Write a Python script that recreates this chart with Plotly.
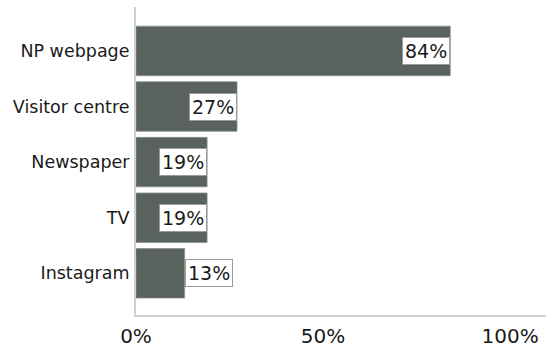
import plotly.graph_objects as go

# Information sources, listed top to bottom
sources = ["NP webpage", "Visitor centre", "Newspaper", "TV", "Instagram"]
shares = [84, 27, 19, 19, 13]
tick_vals = [0, 50, 100]
tick_text = ["0%", "50%", "100%"]

BAR_COLOR = "#59625c"
FONT = "DejaVu Sans, Verdana, sans-serif"

fig = go.Figure(
    go.Bar(
        x=shares,
        y=sources,
        orientation="h",
        width=0.89,
        marker=dict(color=BAR_COLOR, line=dict(color="#8a918c", width=0.8)),
        hoverinfo="skip",
    )
)

# Boxed value labels: inside the bar end, or just past it for short bars
for src, val in zip(sources, shares):
    inside = val >= 15
    fig.add_annotation(
        x=val,
        y=src,
        xref="x",
        yref="y",
        text=f"{val}%",
        showarrow=False,
        xanchor="right" if inside else "left",
        yanchor="middle",
        font=dict(family=FONT, size=19, color="#1a1a1a"),
        bgcolor="white",
        bordercolor="#9a9a9a",
        borderwidth=1,
        borderpad=2,
    )

fig.update_layout(
    width=546,
    height=351,
    margin=dict(l=136, r=0, t=7, b=36),
    paper_bgcolor="white",
    plot_bgcolor="white",
    showlegend=False,
    font=dict(family=FONT, color="#1a1a1a"),
    xaxis=dict(
        range=[0, 109.6],
        tickvals=tick_vals,
        ticktext=tick_text,
        tickfont=dict(size=20, color="#1a1a1a"),
        showgrid=False,
        zeroline=False,
        showline=True,
        linecolor="#d0d0d0",
        linewidth=2,
        ticks="outside",
        ticklen=2,
        tickcolor="rgba(0,0,0,0)",
    ),
    yaxis=dict(
        range=[4.75, -0.79],
        showgrid=False,
        zeroline=False,
        showline=True,
        linecolor="#d0d0d0",
        linewidth=2,
        tickfont=dict(size=17.5, color="#1a1a1a"),
        ticks="outside",
        ticklen=1,
        tickcolor="rgba(0,0,0,0)",
    ),
)

fig.write_html("out.html")
